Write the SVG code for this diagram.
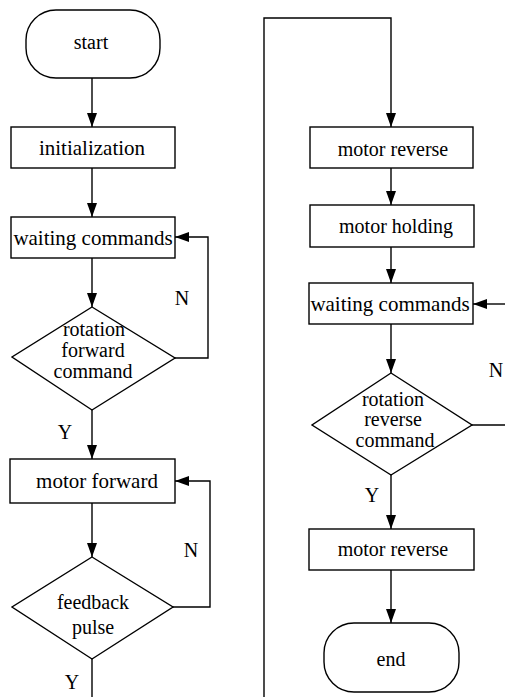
<svg xmlns="http://www.w3.org/2000/svg" width="505" height="697" viewBox="0 0 505 697">
<style>
.s{fill:#fff;stroke:#000;stroke-width:1.4}
.t{font-family:"Liberation Serif","Times New Roman",serif;font-size:20px;fill:#000;text-anchor:middle}
.c{fill:none;stroke:#000;stroke-width:1.4}
.a{marker-end:url(#ah)}
</style>
<defs>
<marker id="ah" markerUnits="userSpaceOnUse" markerWidth="15" markerHeight="11" refX="14" refY="5" orient="auto" viewBox="0 0 15 11">
<path d="M0,0 L14,5 L0,10 z" fill="#000"/>
</marker>
</defs>
<rect width="505" height="697" fill="#fff"/>
<g id="connectors">
<line class="c a" x1="92" y1="78" x2="92" y2="127"/>
<line class="c a" x1="92" y1="168" x2="92" y2="217"/>
<line class="c a" x1="92" y1="258" x2="92" y2="307"/>
<polyline class="c a" points="175,358 208,358 208,237 175,237"/>
<line class="c a" x1="92" y1="410" x2="92" y2="459"/>
<line class="c a" x1="92" y1="503" x2="92" y2="557"/>
<polyline class="c a" points="173,607 210,607 210,481 175,481"/>
<line class="c" x1="92" y1="659" x2="92" y2="697"/>
<polyline class="c a" points="264,697 264,18 391,18 391,127"/>
<line class="c a" x1="391" y1="168" x2="391" y2="205"/>
<line class="c a" x1="391" y1="247" x2="391" y2="283"/>
<line class="c a" x1="505" y1="304" x2="473" y2="304"/>
<line class="c a" x1="391" y1="324" x2="391" y2="373"/>
<line class="c" x1="472" y1="425" x2="505" y2="425"/>
<line class="c a" x1="391" y1="475" x2="391" y2="529"/>
<line class="c a" x1="391" y1="570" x2="391" y2="623"/>
<text class="t" x="182" y="305">N</text>
<text class="t" x="65" y="439">Y</text>
<text class="t" x="191" y="557">N</text>
<text class="t" x="72" y="689">Y</text>
<text class="t" x="496" y="377">N</text>
<text class="t" x="372" y="502">Y</text>
</g>
<g id="start">
<rect class="s" x="26" y="10" width="134" height="68" rx="30"/>
<text class="t" x="91" y="49">start</text>
</g>
<g id="init">
<rect class="s" x="11" y="127" width="164" height="41"/>
<text class="t" x="92" y="155" style="font-size:21px">initialization</text>
</g>
<g id="wait1">
<rect class="s" x="11" y="217" width="164" height="41"/>
<text class="t" x="93" y="245" style="font-size:21px">waiting commands</text>
</g>
<g id="dec1">
<polygon class="s" points="92,307 175,358 92,410 12,357"/>
<text class="t" x="94" y="336">rotation</text>
<text class="t" x="93" y="357">forward</text>
<text class="t" x="93" y="378">command</text>
</g>
<g id="fwd">
<rect class="s" x="10" y="459" width="165" height="44"/>
<text class="t" x="97" y="488" style="font-size:21px">motor forward</text>
</g>
<g id="dec2">
<polygon class="s" points="92,557 173,607 92,659 12,607"/>
<text class="t" x="93" y="609">feedback</text>
<text class="t" x="93" y="634">pulse</text>
</g>
<g id="rev1">
<rect class="s" x="310" y="127" width="163" height="41"/>
<text class="t" x="393" y="156">motor reverse</text>
</g>
<g id="hold">
<rect class="s" x="310" y="205" width="164" height="42"/>
<text class="t" x="396" y="233">motor holding</text>
</g>
<g id="wait2">
<rect class="s" x="309" y="283" width="164" height="41"/>
<text class="t" x="390" y="311" style="font-size:21px">waiting commands</text>
</g>
<g id="dec3">
<polygon class="s" points="391,373 472,425 391,475 312,425"/>
<text class="t" x="393" y="406">rotation</text>
<text class="t" x="393" y="426">reverse</text>
<text class="t" x="395" y="447">command</text>
</g>
<g id="rev2">
<rect class="s" x="309" y="529" width="165" height="41"/>
<text class="t" x="393" y="556">motor reverse</text>
</g>
<g id="end">
<rect class="s" x="324" y="623" width="135" height="69" rx="30"/>
<text class="t" x="391" y="666">end</text>
</g>
</svg>
